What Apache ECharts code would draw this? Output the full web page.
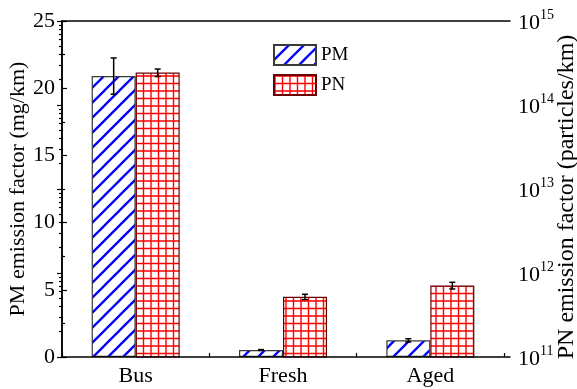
<!DOCTYPE html>
<html>
<head>
<meta charset="utf-8">
<script src="https://cdn.jsdelivr.net/npm/echarts@6/dist/echarts.min.js"></script>
<style>
html, body { margin: 0; padding: 0; background: #fff; }
#chart { width: 577px; height: 389px; }
</style>
</head>
<body>
<div id="chart"></div>
<script>
// Emission factors per vehicle group
const categories = ['Bus', 'Fresh', 'Aged'];
const pmValues = [20.9, 0.52, 1.24];          // mg/km
const pmErrors = [1.35, 0.03, 0.12];
const pnValues = [2.43e14, 5.2e11, 7.1e11];   // particles/km
const pnErrors = [0.25e14, 0.38e11, 0.65e11];
const pmAxisMax = 25;
const pnAxisMin = 1e11;
const pnAxisMax = 1e15;

const FONT = 'Liberation Serif';
const BAR_W = 44;

// Minor ticks of the log axis at 2..9 within each decade
const pnMinorTicks = [];
for (let e = 11; e < 15; e++) {
  for (let k = 2; k <= 9; k++) pnMinorTicks.push(k * Math.pow(10, e));
}

// Fill tiles: blue diagonal hatch and red grid
function hatchTile() {
  const s = 15;
  const c = document.createElement('canvas');
  c.width = c.height = s;
  const g = c.getContext('2d');
  g.fillStyle = '#fff';
  g.fillRect(0, 0, s, s);
  g.strokeStyle = '#0000ff';
  g.lineWidth = 2.3;
  g.beginPath();
  g.moveTo(-2, s + 2); g.lineTo(s + 2, -2);
  g.moveTo(-2, 2); g.lineTo(2, -2);
  g.moveTo(s - 2, s + 2); g.lineTo(s + 2, s - 2);
  g.stroke();
  return c;
}
function gridTile() {
  const s = 15;
  const c = document.createElement('canvas');
  c.width = c.height = s;
  const g = c.getContext('2d');
  g.fillStyle = '#fff';
  g.fillRect(0, 0, s, s);
  g.strokeStyle = '#ff0000';
  g.lineWidth = 1.4;
  g.beginPath();
  [1, 8.5].forEach(p => {
    g.moveTo(p, 0); g.lineTo(p, s);
    g.moveTo(0, p); g.lineTo(s, p);
  });
  g.stroke();
  return c;
}

function errorBars(values, errors, yAxisIndex, side) {
  return {
    type: 'custom',
    xAxisIndex: 0,
    yAxisIndex: yAxisIndex,
    silent: true,
    z: 6,
    data: values.map((v, i) => [i, v - errors[i], v + errors[i]]),
    renderItem: function (params, api) {
      const lo = api.coord([api.value(0), api.value(1)]);
      const hi = api.coord([api.value(0), api.value(2)]);
      const x = lo[0] + side * BAR_W / 2;
      const cap = 3;
      const st = { stroke: '#000', lineWidth: 1.5 };
      return {
        type: 'group',
        children: [
          { type: 'line', shape: { x1: x, y1: lo[1], x2: x, y2: hi[1] }, style: st },
          { type: 'line', shape: { x1: x - cap, y1: lo[1], x2: x + cap, y2: lo[1] }, style: st },
          { type: 'line', shape: { x1: x - cap, y1: hi[1], x2: x + cap, y2: hi[1] }, style: st }
        ]
      };
    }
  };
}

const chart = echarts.init(document.getElementById('chart'), null, { renderer: 'canvas' });

const frameLine = { show: true, lineStyle: { color: '#000', width: 1.5 } };
const tickFont = { fontFamily: FONT, fontSize: 22, color: '#000' };

chart.setOption({
  animation: false,
  backgroundColor: '#fff',
  legend: {
    data: ['PM', 'PN'],
    orient: 'vertical',
    left: 273,
    top: 44,
    padding: 0,
    itemWidth: 42,
    itemHeight: 20,
    itemGap: 8,
    icon: 'rect',
    textStyle: { fontFamily: FONT, fontSize: 19, color: '#000' }
  },
  grid: [
    { left: 62, right: 73, top: 21, bottom: 32, outerBoundsMode: 'none', containLabel: false },
    { left: 62, right: 67, top: 21, bottom: 32, outerBoundsMode: 'none', containLabel: false }
  ],
  xAxis: [
    {
      type: 'category',
      gridIndex: 0,
      data: categories,
      axisLine: { show: false },
      axisTick: { show: true, inside: true, length: 4, lineStyle: { color: '#000', width: 1.2 } },
      axisLabel: Object.assign({ margin: 8 }, tickFont),
      splitLine: { show: false }
    },
    {
      type: 'value', gridIndex: 1, position: 'bottom', min: 0, max: 1, z: 10,
      axisLine: frameLine, axisTick: { show: false }, axisLabel: { show: false }, splitLine: { show: false }
    },
    {
      type: 'value', gridIndex: 1, position: 'top', min: 0, max: 1, z: 10,
      axisLine: frameLine, axisTick: { show: false }, axisLabel: { show: false }, splitLine: { show: false }
    }
  ],
  yAxis: [
    {
      type: 'value',
      gridIndex: 0,
      position: 'left',
      min: 0,
      max: pmAxisMax,
      interval: 5,
      z: 10,
      name: 'PM emission factor (mg/km)',
      nameLocation: 'middle',
      nameGap: 33,
      nameRotate: 90,
      nameMoveOverlap: false,
      nameTextStyle: { fontFamily: FONT, fontSize: 22, color: '#000' },
      axisLine: frameLine,
      axisTick: { show: true, inside: true, length: 5, lineStyle: { color: '#000', width: 1.2 } },
      minorTick: { show: true, splitNumber: 2, length: 3, lineStyle: { color: '#000', width: 1.2 } },
      axisLabel: Object.assign({ margin: 7 }, tickFont),
      splitLine: { show: false }
    },
    {
      type: 'log',
      gridIndex: 0,
      position: 'right',
      min: pnAxisMin,
      max: pnAxisMax,
      show: false
    },
    {
      type: 'log',
      gridIndex: 1,
      position: 'right',
      min: pnAxisMin,
      max: pnAxisMax,
      z: 10,
      name: 'PN emission factor (particles/km)',
      nameLocation: 'middle',
      nameGap: 45,
      nameRotate: 90,
      nameMoveOverlap: false,
      nameTextStyle: { fontFamily: FONT, fontSize: 24, color: '#000', padding: [0, 16, 0, 0] },
      axisLine: frameLine,
      axisTick: { show: true, inside: true, length: 5, lineStyle: { color: '#000', width: 1.2 } },
      axisLabel: {
        margin: 8,
        formatter: function (v) { return '{b|10}{s|' + Math.round(Math.log10(v)) + '}'; },
        rich: {
          b: { fontFamily: FONT, fontSize: 22, color: '#000', verticalAlign: 'bottom' },
          s: { fontFamily: FONT, fontSize: 14, color: '#000', verticalAlign: 'top', padding: [0, 0, 12, 0] }
        }
      },
      splitLine: { show: false }
    },
    {
      type: 'log',
      gridIndex: 1,
      position: 'right',
      min: pnAxisMin,
      max: pnAxisMax,
      z: 10,
      axisLine: { show: false },
      axisTick: { show: true, inside: true, length: 3, customValues: pnMinorTicks, lineStyle: { color: '#000', width: 1.2 } },
      axisLabel: { show: false },
      splitLine: { show: false }
    }
  ],
  series: [
    {
      name: 'PM',
      type: 'bar',
      xAxisIndex: 0,
      yAxisIndex: 0,
      barWidth: BAR_W,
      barGap: '0%',
      data: pmValues,
      itemStyle: {
        color: { image: hatchTile(), repeat: 'repeat' },
        borderColor: '#3a3a3a',
        borderWidth: 1.2
      }
    },
    {
      name: 'PN',
      type: 'bar',
      xAxisIndex: 0,
      yAxisIndex: 1,
      barWidth: BAR_W,
      barGap: '0%',
      clip: true,
      data: pnValues,
      itemStyle: {
        color: { image: gridTile(), repeat: 'repeat' },
        borderColor: '#6a0000',
        borderWidth: 1.2
      }
    },
    errorBars(pmValues, pmErrors, 0, -1),
    errorBars(pnValues, pnErrors, 1, 1)
  ]
});
</script>
</body>
</html>
